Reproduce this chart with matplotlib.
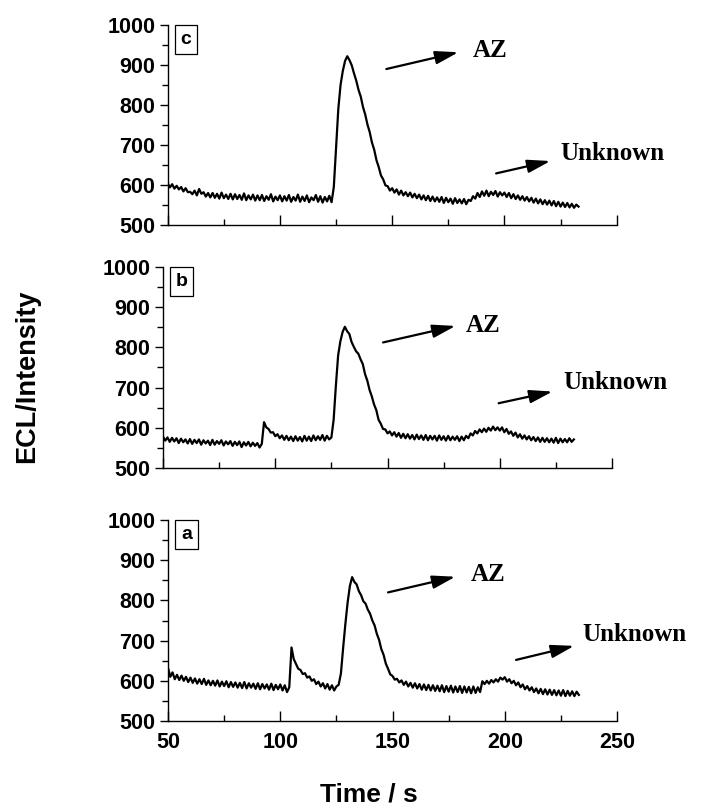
import numpy as np
import matplotlib
matplotlib.use('Agg')
import matplotlib.pyplot as plt
from matplotlib.ticker import MultipleLocator

# time axis, one reading per second
time_s = np.arange(50, 234)

# trace c (top panel)
ecl_c = [605, 594, 602, 591, 598, 589, 595, 584, 592, 582,
         583, 577, 586, 574, 590, 578, 582, 571, 580, 569,
         580, 568, 578, 566, 581, 567, 576, 565, 578, 564,
         577, 565, 575, 563, 579, 562, 574, 564, 576, 561,
         574, 562, 575, 560, 572, 563, 577, 559, 571, 562,
         574, 559, 572, 561, 575, 558, 570, 561, 576, 558,
         571, 560, 574, 557, 569, 562, 575, 558, 572, 556,
         570, 559, 573, 557, 595, 692, 790, 850, 885, 910,
         922, 912, 899, 879, 861, 838, 821, 795, 776, 751,
         732, 706, 688, 662, 645, 624, 614, 599, 597, 586,
         592, 581, 589, 576, 586, 574, 582, 572, 581, 569,
         578, 567, 576, 564, 574, 562, 573, 560, 571, 559,
         569, 558, 570, 555, 568, 557, 566, 553, 567, 555,
         564, 554, 565, 552, 563, 560, 572, 566, 580, 570,
         584, 573, 586, 572, 583, 575, 585, 571, 582, 574,
         581, 570, 580, 567, 577, 565, 574, 563, 572, 561,
         570, 559, 568, 556, 566, 554, 564, 552, 562, 551,
         561, 549, 560, 547, 558, 546, 556, 545, 555, 544,
         553, 543, 551, 546]

# trace b (middle panel)
ecl_b = [578, 568, 576, 565, 575, 566, 574, 562, 573, 564,
         571, 561, 572, 560, 570, 562, 571, 558, 569, 561,
         568, 557, 570, 558, 567, 560, 569, 556, 566, 559,
         567, 555, 565, 557, 566, 552, 564, 556, 565, 554,
         563, 555, 562, 551, 560, 614, 601, 597, 588, 589,
         579, 584, 574, 581, 570, 580, 569, 578, 567, 579,
         568, 577, 566, 580, 568, 578, 567, 581, 569, 579,
         570, 582, 568, 580, 571, 576, 620, 705, 780, 815,
         838, 851, 840, 833, 813, 801, 790, 784, 770, 758,
         733, 717, 694, 678, 658, 644, 620, 610, 597, 596,
         586, 591, 581, 589, 578, 587, 575, 585, 574, 584,
         573, 582, 571, 583, 572, 581, 570, 582, 569, 580,
         571, 580, 568, 581, 570, 579, 568, 580, 569, 578,
         570, 579, 567, 578, 569, 580, 574, 586, 581, 592,
         586, 596, 589, 598, 590, 600, 593, 603, 594, 601,
         593, 601, 589, 597, 585, 591, 580, 588, 576, 584,
         573, 581, 571, 579, 569, 577, 567, 576, 565, 575,
         565, 574, 564, 573, 563, 575, 562, 573, 564, 572,
         564, 574, 565, 571]

# trace a (bottom panel)
ecl_a = [632, 610, 621, 604, 615, 602, 613, 600, 610, 597,
         608, 595, 606, 593, 604, 592, 605, 590, 601, 589,
         600, 588, 601, 586, 598, 587, 599, 584, 597, 585,
         596, 583, 595, 582, 597, 581, 594, 583, 593, 580,
         594, 579, 592, 581, 591, 578, 593, 577, 590, 579,
         591, 576, 589, 572, 584, 683, 654, 642, 630, 627,
         617, 619, 608, 611, 600, 604, 592, 598, 586, 594,
         581, 592, 578, 589, 576, 586, 590, 618, 682, 742,
         795, 836, 858, 846, 840, 823, 813, 798, 792, 777,
         767, 750, 738, 717, 702, 679, 665, 643, 630, 616,
         612, 603, 605, 596, 601, 590, 598, 586, 595, 583,
         594, 581, 592, 578, 591, 577, 590, 576, 589, 575,
         588, 574, 589, 572, 587, 573, 588, 571, 586, 572,
         587, 570, 586, 571, 585, 569, 586, 570, 584, 572,
         599, 592, 600, 593, 602, 596, 604, 598, 608, 603,
         609, 598, 604, 594, 600, 589, 596, 584, 591, 579,
         587, 576, 584, 572, 581, 569, 580, 567, 579, 566,
         578, 565, 577, 564, 576, 563, 577, 562, 575, 563,
         574, 562, 573, 565]

panel_letters = ['c', 'b', 'a']
y_ticks = [500, 600, 700, 800, 900, 1000]
x_ticks = [50, 100, 150, 200, 250]

# annotation placement per panel: (arrow tail, arrow head, text anchor)
az_marks = [((147.4, 890), (179.5, 932), (186, 936)),
            ((148, 812), (180.3, 853), (185, 855)),
            ((148, 820), (178, 859), (185, 865))]
unknown_marks = [((196.3, 629), (220.5, 660), (225, 678)),
                 ((199.5, 661), (223.5, 690), (228.5, 712)),
                 ((205, 652), (230.9, 687), (234.5, 716))]

sans = 'Liberation Sans'
serif = 'Liberation Serif'

fig = plt.figure(figsize=(7.06, 8.05), dpi=100)

# axes boxes (left, bottom, width, height) in figure fractions
boxes = [[0.2375, 0.7205, 0.636, 0.2484],
         [0.2309, 0.4186, 0.636, 0.2500],
         [0.2380, 0.1043, 0.636, 0.2497]]
traces = [ecl_c, ecl_b, ecl_a]

for i in range(3):
    ax = fig.add_axes(boxes[i])
    ax.plot(time_s, traces[i], color='black', lw=1.6)
    ax.set_xlim(50, 250)
    ax.set_ylim(500, 1000)
    ax.set_xticks(x_ticks)
    ax.set_yticks(y_ticks)
    ax.xaxis.set_minor_locator(MultipleLocator(25))
    ax.yaxis.set_minor_locator(MultipleLocator(50))
    ax.spines['top'].set_visible(False)
    ax.spines['right'].set_visible(False)
    ax.spines['left'].set_linewidth(1.0)
    ax.spines['bottom'].set_linewidth(1.0)
    ax.tick_params(axis='x', which='major', direction='in', length=7, width=1.0, pad=8)
    ax.tick_params(axis='x', which='minor', direction='in', length=4, width=1.0)
    ax.tick_params(axis='y', which='major', direction='out', length=6, width=1.0, pad=3)
    ax.tick_params(axis='y', which='minor', direction='out', length=4, width=1.0)
    ax.tick_params(labelbottom=(i == 2))
    for lab in ax.get_xticklabels() + ax.get_yticklabels():
        lab.set_fontfamily(sans)
        lab.set_fontweight('bold')
        lab.set_fontsize(15.5)

    # boxed panel letter
    ax.text(0.041, 0.928, panel_letters[i], transform=ax.transAxes, ha='center', va='center',
            fontsize=14, fontweight='bold', family=sans,
            bbox=dict(boxstyle='square,pad=0.3', fc='white', ec='black', lw=0.9))

    # arrows + labels
    for marks, word in [(az_marks[i], 'AZ'), (unknown_marks[i], 'Unknown')]:
        tail, head, anchor = marks
        ax.annotate('', xy=head, xytext=tail,
                    arrowprops=dict(arrowstyle='-|>,head_length=0.7,head_width=0.2',
                                    color='black', lw=1.6, mutation_scale=20,
                                    shrinkA=0, shrinkB=0))
        ax.text(anchor[0], anchor[1], word, ha='left', va='center', fontsize=18,
                fontweight='bold', family=serif, clip_on=False)

fig.text(0.039, 0.533, 'ECL/Intensity', rotation=90, ha='center', va='center',
         fontsize=19.5, fontweight='bold', family=sans)
fig.text(0.5227, 0.013, 'Time / s', ha='center', va='center',
         fontsize=19, fontweight='bold', family=sans)

fig.savefig('out.png', dpi=100)
